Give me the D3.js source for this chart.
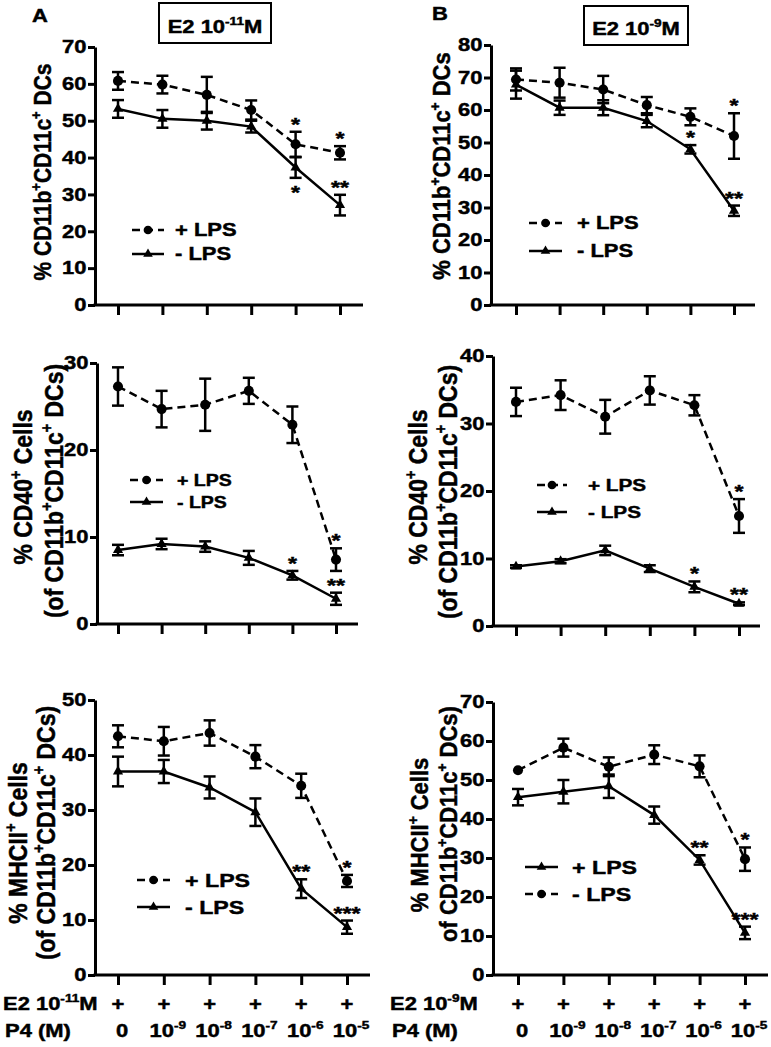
<!DOCTYPE html>
<html><head><meta charset="utf-8">
<script src="https://cdn.jsdelivr.net/npm/d3@7"></script>
<style>
body{margin:0;background:#fff}
svg{display:block}
text{font-family:"Liberation Sans",Arial,Helvetica,sans-serif;font-weight:bold;fill:#000;stroke:#000;stroke-width:0.45px;white-space:pre}
</style>
</head><body>
<svg id="chart" width="771" height="1047"></svg>
<script>
// ---------------- DATA ----------------
const p4Labels = [["0",""],["10","-9"],["10","-8"],["10","-7"],["10","-6"],["10","-5"]];
const e2Marks = ["+","+","+","+","+","+"];
const legendPlus = "+ LPS";
const legendMinus = "- LPS";

// Panel A, row 1: % CD11b+CD11c+ DCs (E2 1e-11 M)
const a1PlusMean  = [60.8, 59.8, 57.0, 52.9, 43.6, 41.3];
const a1PlusErr   = [2.4, 2.4, 4.9, 2.6, 3.4, 1.8];
const a1MinusMean = [53.2, 50.5, 50.0, 48.4, 37.3, 27.1];
const a1MinusErr  = [2.4, 2.4, 2.4, 1.6, 2.8, 2.8];
// Panel B, row 1 (E2 1e-9 M)
const b1PlusMean  = [69.4, 68.4, 66.3, 61.5, 57.9, 52.0];
const b1PlusErr   = [3.4, 4.6, 4.2, 2.5, 2.6, 7.0];
const b1MinusMean = [67.8, 60.7, 60.7, 56.6, 47.9, 29.0];
const b1MinusErr  = [4.3, 2.2, 2.3, 1.9, 1.3, 1.6];
// Panel A, row 2: % CD40+ cells
const a2PlusMean  = [27.3, 24.7, 25.2, 26.8, 22.9, 7.4];
const a2PlusErr   = [2.2, 2.1, 3.0, 1.5, 2.1, 1.3];
const a2MinusMean = [8.5, 9.2, 8.9, 7.6, 5.6, 2.9];
const a2MinusErr  = [0.6, 0.6, 0.6, 0.8, 0.5, 0.7];
// Panel B, row 2
const b2PlusMean  = [33.2, 34.2, 31.0, 34.9, 32.7, 16.3];
const b2PlusErr   = [2.1, 2.2, 2.5, 2.1, 1.5, 2.5];
const b2MinusMean = [8.8, 9.6, 11.2, 8.5, 5.8, 3.3];
const b2MinusErr  = [0.2, 0.3, 0.7, 0.5, 0.8, 0.2];
// Panel A, row 3: % MHCII+ cells
const a3PlusMean  = [43.4, 42.5, 44.0, 39.7, 34.4, 17.1];
const a3PlusErr   = [2.0, 2.6, 2.3, 2.1, 2.2, 1.1];
const a3MinusMean = [37.0, 37.0, 34.1, 29.6, 15.7, 8.7];
const a3MinusErr  = [2.7, 2.1, 2.0, 2.5, 1.7, 1.2];
// Panel B, row 3 (legend: solid = "+ LPS", dashed = "- LPS")
const b3SolidMean = [45.6, 47.0, 48.4, 41.0, 29.5, 10.8];
const b3SolidErr  = [2.1, 3.0, 3.0, 2.2, 1.2, 1.6];
const b3DashMean  = [52.5, 58.3, 53.4, 56.5, 53.5, 29.7];
const b3DashErr   = [0, 2.3, 2.4, 2.4, 2.8, 3.0];

// significance stars: [series index, point index, label, position]
const a1Stars = [[0,4,"*","above"],[0,5,"*","above"],[1,4,"*","below"],[1,5,"**","above"]];
const b1Stars = [[0,5,"*","above"],[1,4,"*","above"],[1,5,"**","above"]];
const a2Stars = [[0,5,"*","above"],[1,4,"*","above"],[1,5,"**","above"]];
const b2Stars = [[0,5,"*","above"],[1,4,"*","above"],[1,5,"**","above"]];
const a3Stars = [[0,5,"*","above"],[1,4,"**","above"],[1,5,"***","above"]];
const b3Stars = [[1,5,"*","above"],[0,4,"**","above"],[0,5,"***","above"]];

// ---------------- DRAWING ----------------
const SX = 1.22;   // horizontal stretch of the original figure text
const SYV = 1.1;
const svg = d3.select("#chart");

function rich(t, parts, fs) {
  let prevSup = false;
  parts.forEach(([s, sup]) => {
    const ts = t.append("tspan").text(s);
    if (sup) ts.attr("font-size", fs * 0.62).attr("dy", prevSup ? 0 : -fs * 0.42);
    else ts.attr("font-size", fs).attr("dy", prevSup ? fs * 0.42 : 0);
    prevSup = !!sup;
  });
}
function htext(g, x, y, anchor, fs, parts) {
  const t = g.append("text")
    .attr("transform", `translate(${x},${y}) scale(${SX},1)`)
    .attr("text-anchor", anchor).attr("font-size", fs);
  rich(t, parts, fs);
  return t;
}
function vtext(g, x, y, fs, parts) {
  const t = g.append("text")
    .attr("transform", `translate(${x},${y}) rotate(-90) scale(1,${SYV})`)
    .attr("text-anchor", "middle").attr("font-size", fs);
  rich(t, parts, fs);
  return t;
}

function drawPanel(L, series, stars) {
  const g = svg.append("g");
  const x = d3.scaleLinear().domain([0, 5]).range([L.x0, L.x5]);
  const y = d3.scaleLinear().domain([0, L.ymax]).range([L.yb, L.yt]);

  // y axis
  const ya = g.append("g").attr("transform", `translate(${L.left},0)`)
    .call(d3.axisLeft(y).tickValues(d3.range(0, L.ymax + 1, L.step))
      .tickSize(7).tickSizeOuter(0).tickPadding(0));
  ya.attr("font-size", null).attr("font-family", null);
  ya.select(".domain").attr("stroke-width", 3).attr("stroke", "#000");
  ya.selectAll(".tick line").attr("stroke-width", 3).attr("stroke", "#000");
  ya.selectAll(".tick text").attr("font-size", 18).attr("fill", "#000")
    .attr("transform", `scale(${SX},1)`);

  // x axis
  const xa = g.append("g").attr("transform", `translate(0,${L.yb})`)
    .call(d3.axisBottom(x).tickValues(d3.range(6)).tickFormat("").tickSize(10).tickSizeOuter(0));
  xa.select(".domain").remove();
  xa.selectAll(".tick line").attr("stroke-width", 3).attr("stroke", "#000");
  g.append("line").attr("x1", L.left - 1.5).attr("x2", L.xend)
    .attr("y1", L.yb).attr("y2", L.yb).attr("stroke", "#000").attr("stroke-width", 3);

  const line = d3.line().x((d, i) => x(i)).y(d => y(d));
  series.forEach(s => {
    g.append("path").attr("d", line(s.mean)).attr("fill", "none")
      .attr("stroke", "#000").attr("stroke-width", 2.5)
      .attr("stroke-dasharray", s.dashed ? "8,5" : null);
    s.mean.forEach((m, i) => {
      const e = s.err[i];
      if (!e) return;
      const cx = x(i);
      g.append("line").attr("x1", cx).attr("x2", cx).attr("y1", y(m - e)).attr("y2", y(m + e))
        .attr("stroke", "#000").attr("stroke-width", 2.5);
      [m - e, m + e].forEach(v => g.append("line").attr("x1", cx - 6).attr("x2", cx + 6)
        .attr("y1", y(v)).attr("y2", y(v)).attr("stroke", "#000").attr("stroke-width", 2.5));
    });
    g.selectAll(null).data(s.mean).join("path")
      .attr("transform", (d, i) => `translate(${x(i)},${y(d)})`)
      .attr("d", d3.symbol(s.dashed ? d3.symbolCircle : d3.symbolTriangle, s.dashed ? 80 : 45)())
      .attr("fill", "#000");
  });

  stars.forEach(([si, pi, label, pos]) => {
    const s = series[si], m = s.mean[pi], e = s.err[pi];
    const yy = pos === "above" ? y(m + e) - 1 : y(m - e) + 21;
    htext(g, x(pi), yy, "middle", 19, [[label, false]]);
  });

  // legend
  const lg = L.legend;
  series.forEach((s, k) => {
    const ly = lg.ys[k];
    g.append("line").attr("x1", lg.x1).attr("x2", lg.x2).attr("y1", ly).attr("y2", ly)
      .attr("stroke", "#000").attr("stroke-width", 2.5)
      .attr("stroke-dasharray", s.dashed ? "8,5" : null);
    g.append("path").attr("transform", `translate(${(lg.x1 + lg.x2) / 2},${ly})`)
      .attr("d", d3.symbol(s.dashed ? d3.symbolCircle : d3.symbolTriangle, s.dashed ? 60 : 40)())
      .attr("fill", "#000");
    htext(g, lg.tx, ly + lg.fs * 0.36, "start", lg.fs, [[s.label, false]]);
  });

  // y label
  L.ylab.forEach(l => vtext(g, l.x, l.y, l.fs, l.parts));
  return x;
}

const labCD = [["% CD11b",false],["+",true],["CD11c",false],["+",true],[" DCs",false]];
const labOf = [["(of CD11b",false],["+",true],["CD11c",false],["+",true],[" DCs)",false]];
const labOfB = [["of CD11b",false],["+",true],["CD11c",false],["+",true],[" DCs)",false]];
const labCD40 = [["% CD40",false],["+",true],[" Cells",false]];
const labMHC = [["% MHCII",false],["+",true],[" Cells",false]];

drawPanel({left:95, x0:118, x5:340, xend:363, yb:305, yt:47, ymax:70, step:10,
  legend:{x1:132, x2:164, tx:175, ys:[230,254], fs:18},
  ylab:[{x:51, y:172, fs:21, parts:labCD}]},
  [{mean:a1PlusMean, err:a1PlusErr, dashed:true, label:legendPlus},
   {mean:a1MinusMean, err:a1MinusErr, dashed:false, label:legendMinus}], a1Stars);

drawPanel({left:491, x0:516, x5:734, xend:755, yb:305, yt:45, ymax:80, step:10,
  legend:{x1:529, x2:562, tx:577, ys:[223,251], fs:18},
  ylab:[{x:450, y:166, fs:22, parts:labCD}]},
  [{mean:b1PlusMean, err:b1PlusErr, dashed:true, label:legendPlus},
   {mean:b1MinusMean, err:b1MinusErr, dashed:false, label:legendMinus}], b1Stars);

drawPanel({left:97, x0:118, x5:336, xend:358, yb:624, yt:363, ymax:30, step:10,
  legend:{x1:130, x2:163, tx:177, ys:[480,502], fs:16},
  ylab:[{x:32, y:487, fs:23, parts:labCD40},{x:63, y:491, fs:23, parts:labOf}]},
  [{mean:a2PlusMean, err:a2PlusErr, dashed:true, label:legendPlus},
   {mean:a2MinusMean, err:a2MinusErr, dashed:false, label:legendMinus}], a2Stars);

drawPanel({left:493, x0:516, x5:739, xend:760, yb:626, yt:356, ymax:40, step:10,
  legend:{x1:537, x2:567, tx:588, ys:[485,512], fs:17},
  ylab:[{x:427, y:487, fs:23, parts:labCD40},{x:457, y:492, fs:23, parts:labOf}]},
  [{mean:b2PlusMean, err:b2PlusErr, dashed:true, label:legendPlus},
   {mean:b2MinusMean, err:b2MinusErr, dashed:false, label:legendMinus}], b2Stars);

const xA3 = drawPanel({left:95, x0:118, x5:347, xend:370, yb:975, yt:700, ymax:50, step:10,
  legend:{x1:137, x2:170, tx:185, ys:[880,907], fs:19},
  ylab:[{x:27, y:843, fs:23, parts:labMHC},{x:55, y:833, fs:23, parts:labOf}]},
  [{mean:a3PlusMean, err:a3PlusErr, dashed:true, label:legendPlus},
   {mean:a3MinusMean, err:a3MinusErr, dashed:false, label:legendMinus}], a3Stars);

const xB3 = drawPanel({left:493, x0:518, x5:745, xend:768, yb:975, yt:702, ymax:70, step:10,
  legend:{x1:525, x2:558, tx:572, ys:[867,894], fs:19},
  ylab:[{x:428, y:835, fs:22, parts:labMHC},{x:457, y:824, fs:22, parts:labOfB}]},
  [{mean:b3SolidMean, err:b3SolidErr, dashed:false, label:legendPlus},
   {mean:b3DashMean, err:b3DashErr, dashed:true, label:legendMinus}], b3Stars);

// panel letters and title boxes
htext(svg, 32, 22, "start", 18, [["A", false]]);
htext(svg, 432, 20, "start", 18, [["B", false]]);
svg.append("rect").attr("x", 159).attr("y", 3).attr("width", 112).attr("height", 40)
  .attr("fill", "none").attr("stroke", "#000").attr("stroke-width", 2);
htext(svg, 215, 33, "middle", 18, [["E2 10",false],["-11",true],["M",false]]);
svg.append("rect").attr("x", 584).attr("y", 6).attr("width", 104).attr("height", 39)
  .attr("fill", "none").attr("stroke", "#000").attr("stroke-width", 2);
htext(svg, 636, 35, "middle", 18, [["E2 10",false],["-9",true],["M",false]]);

// bottom treatment rows
function bottomRows(x, lx, e2parts) {
  htext(svg, lx, 1010, "start", 18, e2parts);
  htext(svg, lx + 2, 1037, "start", 18, [["P4 (M)", false]]);
  e2Marks.forEach((m, i) => htext(svg, x(i), 1010, "middle", 18, [[m, false]]));
  p4Labels.forEach((p, i) => {
    const parts = p[1] ? [[p[0], false], [p[1], true]] : [[p[0], false]];
    htext(svg, x(i) + 4, 1037, "middle", 18, parts);
  });
}
bottomRows(xA3, 3, [["E2 10",false],["-11",true],["M",false]]);
bottomRows(xB3, 390, [["E2 10",false],["-9",true],["M",false]]);
</script>
</body></html>
